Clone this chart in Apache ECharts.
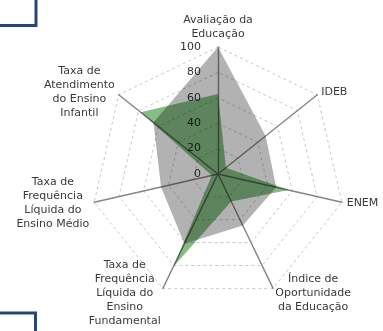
<!DOCTYPE html>
<html>
<head>
<meta charset="utf-8">
<script src="https://cdn.jsdelivr.net/npm/echarts@6/dist/echarts.min.js"></script>
<style>
  html, body { margin: 0; padding: 0; background: #fff; }
  #chart { width: 383px; height: 331px; }
</style>
</head>
<body>
<div id="chart"></div>
<script>
// indicators in clockwise order, starting at the top
const indicatorNames = [
  'Avaliação da\nEducação',
  'IDEB',
  'ENEM',
  'Índice de\nOportunidade\nda Educação',
  'Taxa de\nFrequência\nLíquida do\nEnsino\nFundamental',
  'Taxa de\nFrequência\nLíquida do\nEnsino Médio',
  'Taxa de\nAtendimento\ndo Ensino\nInfantil'
]
const grayValues = [100, 48, 47, 45, 61, 46, 65]
const greenValues = [63, 8, 57, 24, 81, 5, 78]
const axisMax = 100

// echarts lays indicators out counter-clockwise, so flip after the first one
function toCcw (arr) {
  return [arr[0]].concat(arr.slice(1).reverse())
}

const chart = echarts.init(document.getElementById('chart'))

const indicators = toCcw(indicatorNames).map(function (name, i) {
  const ind = { name: name, min: 0, max: axisMax }
  if (i === 0) {
    ind.axisLabel = { show: true }
  }
  return ind
})

chart.setOption({
  backgroundColor: '#fff',
  animation: false,
  radar: {
    center: [218, 174],
    radius: 127,
    startAngle: 90,
    splitNumber: 5,
    shape: 'polygon',
    indicator: indicators,
    axisNameGap: 5,
    axisName: {
      color: '#3a3a3a',
      fontFamily: 'DejaVu Sans',
      fontSize: 11,
      lineHeight: 14,
      formatter: function (name) {
        return '{c|' + name.split('\n').join('}\n{c|') + '}'
      },
      rich: {
        c: { align: 'center', color: '#3a3a3a', fontFamily: 'DejaVu Sans', fontSize: 11, lineHeight: 14 }
      }
    },
    axisLine: { lineStyle: { color: '#858585', width: 1.4 } },
    splitLine: { lineStyle: { color: '#c8c8c8', type: [3, 3], width: 1 } },
    splitArea: { show: false },
    axisTick: { show: false },
    axisLabel: {
      show: false,
      color: '#333',
      fontFamily: 'DejaVu Sans',
      fontSize: 11,
      margin: 17
    }
  },
  series: [
    {
      type: 'radar',
      blendMode: 'multiply',
      symbol: 'none',
      lineStyle: { width: 0 },
      areaStyle: { color: '#b2b2b2', opacity: 1 },
      data: [{ value: toCcw(grayValues), name: 'A' }]
    },
    {
      type: 'radar',
      blendMode: 'multiply',
      symbol: 'none',
      lineStyle: { width: 0 },
      areaStyle: { color: '#86bd86', opacity: 1 },
      data: [{ value: toCcw(greenValues), name: 'B' }]
    }
  ],
  graphic: [
    {
      type: 'rect',
      shape: { x: -10, y: -10, width: 46, height: 35.5 },
      style: { fill: 'none', stroke: '#24467a', lineWidth: 3 }
    },
    {
      type: 'rect',
      shape: { x: -10, y: 313, width: 45.5, height: 40 },
      style: { fill: 'none', stroke: '#24467a', lineWidth: 3 }
    }
  ]
})
</script>
</body>
</html>
